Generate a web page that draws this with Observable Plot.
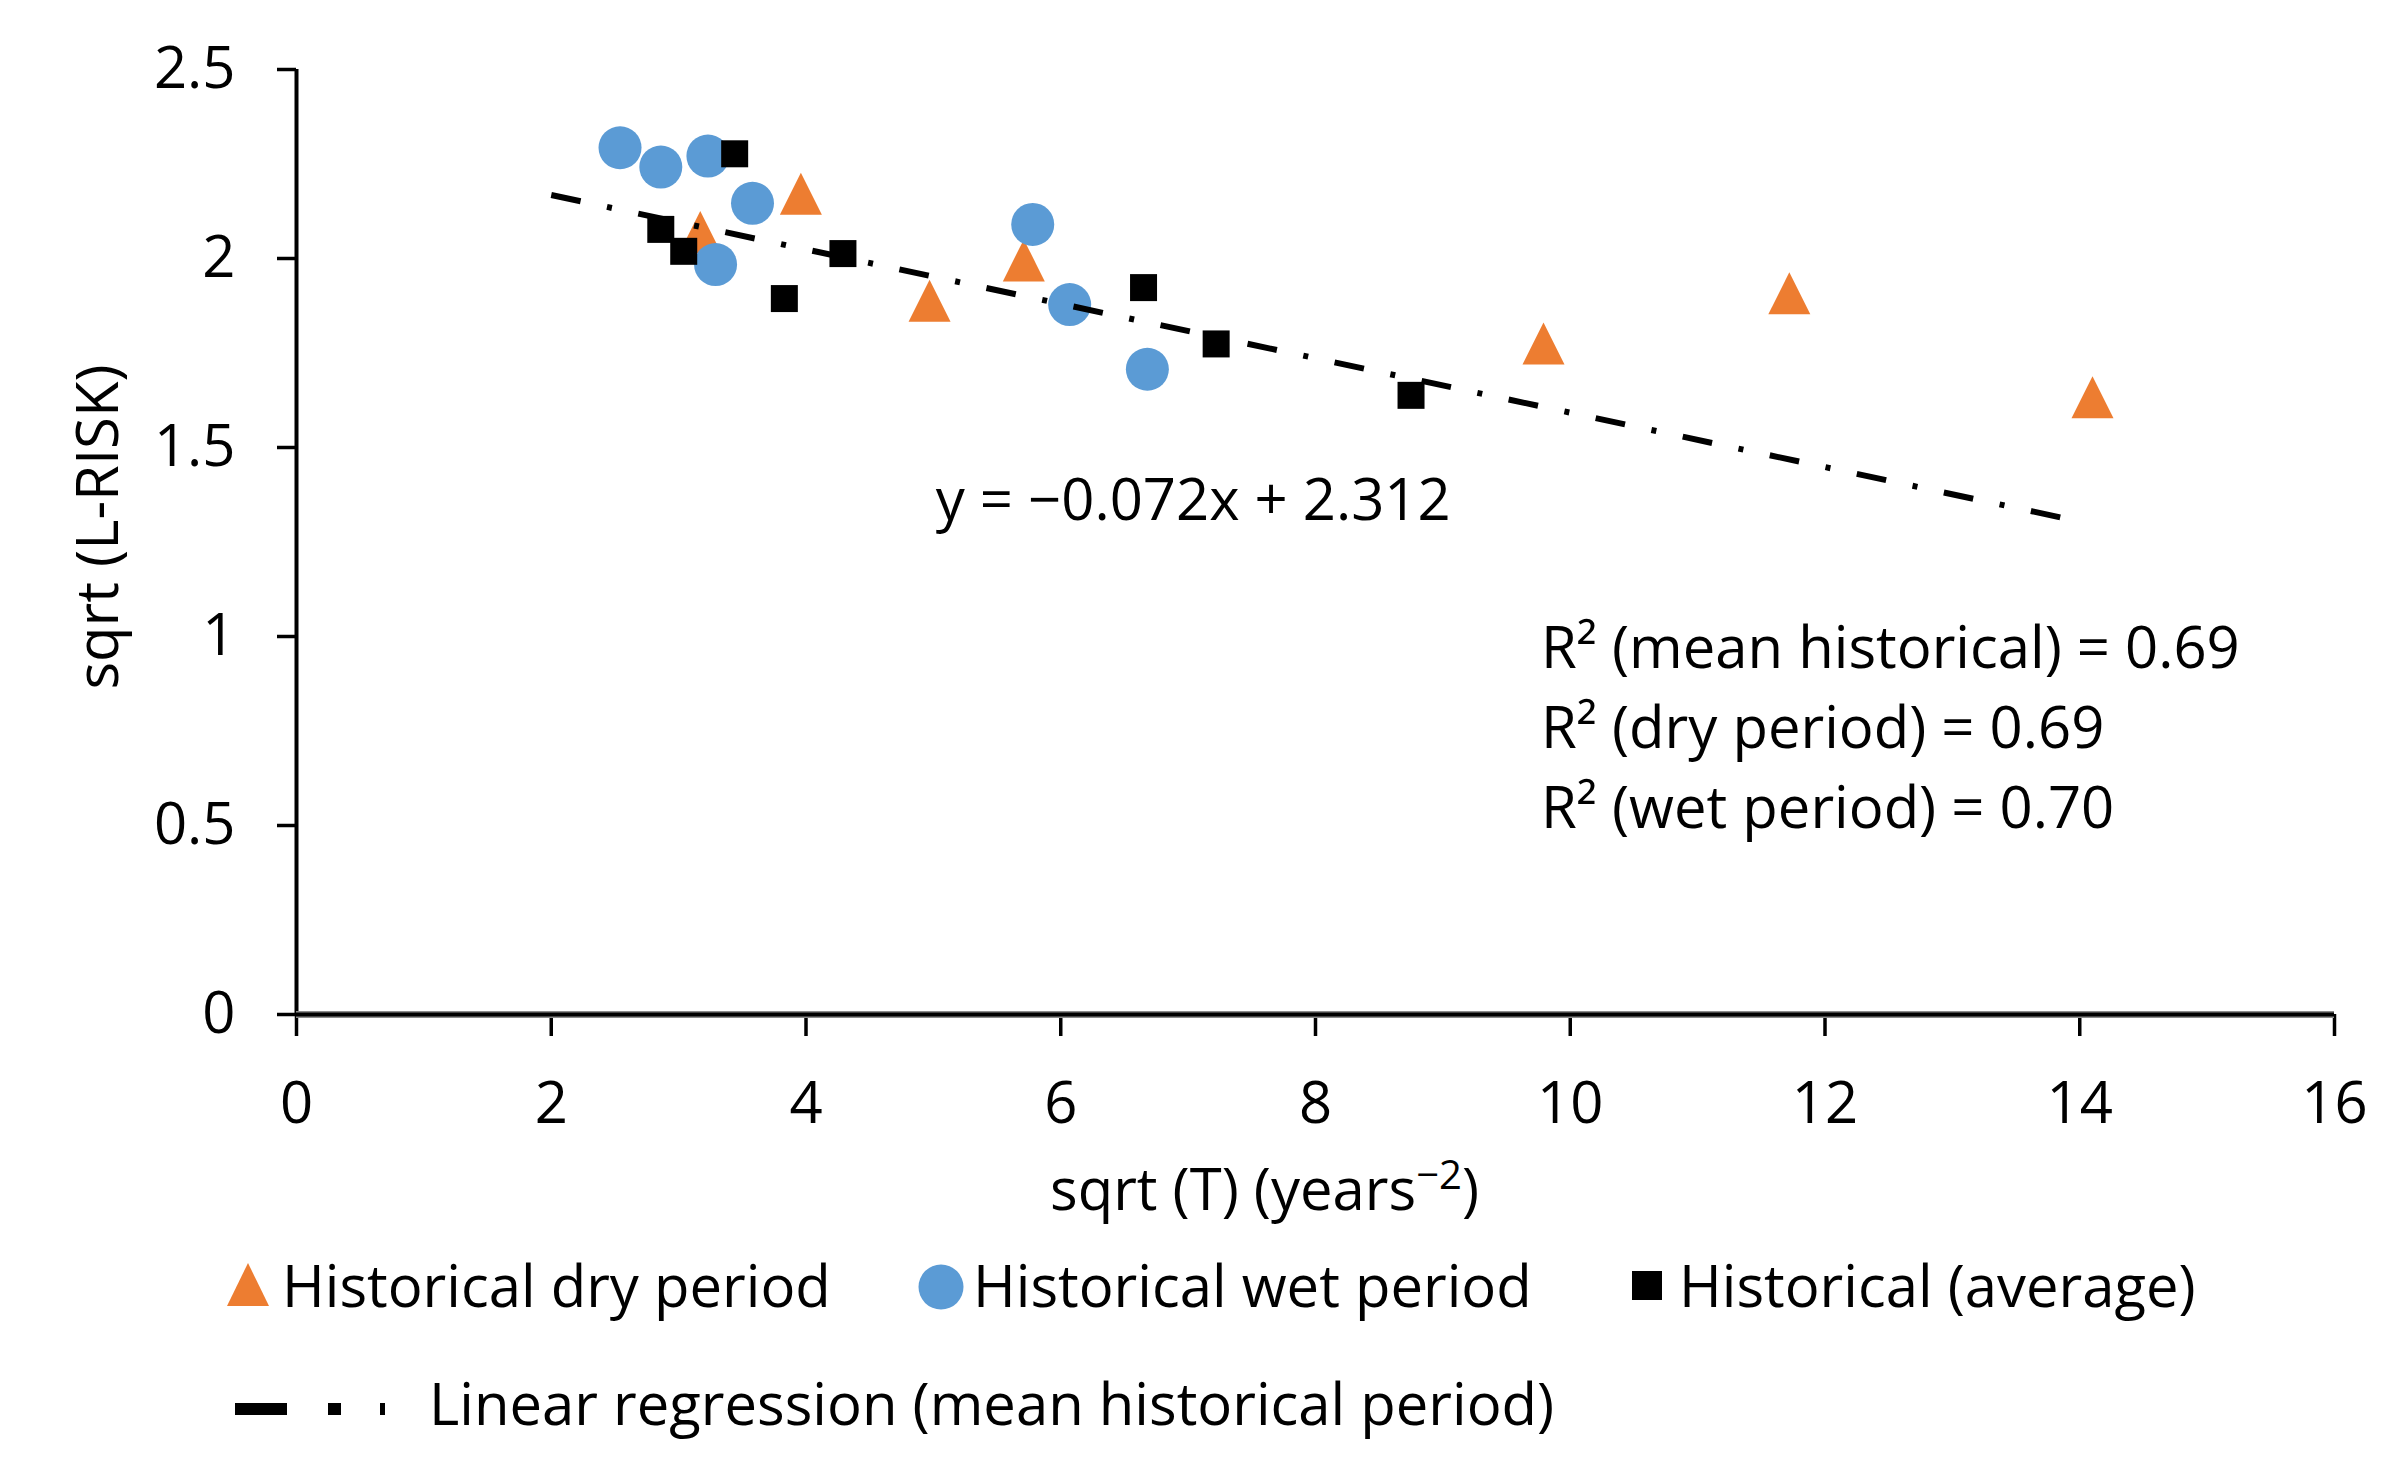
<!DOCTYPE html>
<html>
<head>
<meta charset="utf-8">
<script src="https://cdn.jsdelivr.net/npm/d3@7"></script>
<script src="https://cdn.jsdelivr.net/npm/@observablehq/plot@0.6"></script>
<style>
  html, body { margin: 0; padding: 0; background: #fff; }
  #wrap { width: 2407px; font-family: "Open Sans", sans-serif; color: #000; }
  #legend { position: relative; width: 2407px; height: 226px; font-size: 58px; line-height: 1; }
  #legend .t { position: absolute; white-space: nowrap; }
  #legend svg { position: absolute; overflow: visible; }
</style>
</head>
<body>
<div id="wrap">
  <div id="chart"></div>
  <div id="legend"></div>
</div>
<script>
// ---- data ----
const dryX = [3.17, 3.96, 4.97, 5.71, 9.79, 11.72, 14.10];
const dryY = [2.07, 2.171, 1.888, 1.995, 1.775, 1.908, 1.633];

const wetX = [2.54, 2.86, 3.23, 3.58, 3.29, 5.78, 6.07, 6.68];
const wetY = [2.293, 2.242, 2.271, 2.146, 1.984, 2.090, 1.878, 1.707];

const avgX = [3.44, 2.86, 3.04, 3.83, 4.29, 6.65, 7.22, 8.75];
const avgY = [2.277, 2.077, 2.019, 1.894, 2.013, 1.923, 1.774, 1.638];

const trendX = [2.0, 13.92];
const trendY = [2.168, 1.310];

const xTicks = [0, 2, 4, 6, 8, 10, 12, 14, 16];
const yTicks = [0, 0.5, 1, 1.5, 2, 2.5];

const seriesNames = ["Historical dry period", "Historical wet period", "Historical (average)"];
const trendName = "Linear regression (mean historical period)";
const equationText = "y = \u22120.072x + 2.312";
const r2Lines = ["R\u00B2 (mean historical) = 0.69", "R\u00B2 (dry period) = 0.69", "R\u00B2 (wet period) = 0.70"];
const xTitle = "sqrt (T) (years\u22122)";
const yTitle = "sqrt (L-RISK)";

const ORANGE = "#ED7D31", BLUE = "#5B9BD5", BLACK = "#000000";

// ---- tables ----
const dry = dryX.map((x, i) => ({x, y: dryY[i]}));
const wet = wetX.map((x, i) => ({x, y: wetY[i]}));
const avg = avgX.map((x, i) => ({x, y: avgY[i]}));
const trend = trendX.map((x, i) => ({x, y: trendY[i]}));

// custom symbols (r = half of bounding box)
const triSym = {draw(ctx, size) { const r = Math.sqrt(size / Math.PI); ctx.moveTo(0, -r); ctx.lineTo(r, r); ctx.lineTo(-r, r); ctx.closePath(); }};
const sqSym = {draw(ctx, size) { const r = Math.sqrt(size / Math.PI); ctx.rect(-r, -r, 2 * r, 2 * r); }};

const W = 2407, H = 1250;
const chart = Plot.plot({
  width: W, height: H,
  marginLeft: 296, marginRight: 73, marginTop: 69, marginBottom: H - 1014,
  style: {fontFamily: "Open Sans", fontSize: "58px", color: "#000", background: "#fff", overflow: "visible"},
  x: {domain: [0, 16]},
  y: {domain: [0, 2.5]},
  marks: [
    Plot.axisY({ticks: yTicks, tickFormat: d => String(d), tickSize: 19, tickPadding: 42, strokeWidth: 3.5, label: null}),
    Plot.axisX({ticks: xTicks, tickFormat: d => String(d), tickSize: 22, tickPadding: 45, strokeWidth: 3.5, label: null}),
    Plot.ruleX([0], {stroke: BLACK, strokeWidth: 4}),
    Plot.ruleY([0], {stroke: "#8c8c8c", strokeWidth: 7}),
    Plot.ruleY([0], {stroke: BLACK, strokeWidth: 4}),
    Plot.dot(dry, {x: "x", y: "y", symbol: triSym, r: 21, fill: ORANGE}),
    Plot.dot(wet, {x: "x", y: "y", symbol: "circle", r: 21.5, fill: BLUE}),
    Plot.dot(avg, {x: "x", y: "y", symbol: sqSym, r: 13.5, fill: BLACK}),
    Plot.line(trend, {x: "x", y: "y", stroke: BLACK, strokeWidth: 6, strokeDasharray: "30,27,5,27", strokeLinecap: "butt"}),
    Plot.text([equationText], {x: 7.04, y: 1.307, text: d => d, textAnchor: "middle", lineAnchor: "bottom", fill: BLACK}),
    Plot.text([r2Lines.join("\n")], {x: 9.77, y: 1.066, text: d => d, textAnchor: "start", lineAnchor: "top", lineHeight: 1.38, fill: BLACK}),
    Plot.text([xTitle], {frameAnchor: "bottom", text: d => d, textAnchor: "middle", lineAnchor: "bottom", dx: -51, dy: 195, fill: BLACK}),
    Plot.text([yTitle], {frameAnchor: "left", text: d => d, textAnchor: "middle", lineAnchor: "bottom", rotate: -90, dx: -179, dy: -15, fill: BLACK})
  ]
});
document.getElementById("chart").appendChild(chart);

// superscript in the x-axis title
d3.select(chart).selectAll("text").filter(function () { return this.textContent === xTitle; })
  .each(function () {
    const t = d3.select(this);
    t.text(null);
    t.append("tspan").text("sqrt (T) (years");
    t.append("tspan").attr("font-size", "40px").attr("dy", "-21px").text("\u22122");
    t.append("tspan").attr("font-size", "58px").attr("dy", "21px").text(")");
  });

// ---- legend (HTML below the SVG) ----
const legend = d3.select("#legend");
function swatch(left, top, w, h, draw) {
  const s = legend.append("svg").attr("width", w).attr("height", h).style("left", left + "px").style("top", top + "px");
  draw(s);
}
function label(left, top, text) {
  legend.append("div").attr("class", "t").style("left", left + "px").style("top", top + "px").text(text);
}
// row 1
swatch(227, 13, 42, 43, s => s.append("path").attr("d", "M21,0L42,43L0,43Z").attr("fill", ORANGE));
label(282, 5.5, seriesNames[0]);
swatch(918, 14, 46, 46, s => s.append("circle").attr("cx", 23).attr("cy", 23).attr("r", 22.5).attr("fill", BLUE));
label(973, 5.5, seriesNames[1]);
swatch(1632, 21, 30, 29, s => s.append("rect").attr("width", 30).attr("height", 29).attr("fill", BLACK));
label(1679, 5.5, seriesNames[2]);
// row 2
swatch(235, 153, 152, 12, s => s.append("line").attr("x1", 0).attr("x2", 152).attr("y1", 6).attr("y2", 6)
  .attr("stroke", BLACK).attr("stroke-width", 12).attr("stroke-dasharray", "52,41,13,39,5,200"));
label(429, 123.5, trendName);
</script>
</body>
</html>
